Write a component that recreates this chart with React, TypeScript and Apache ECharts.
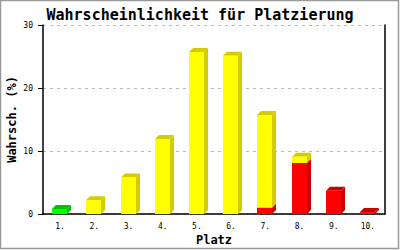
import React, { useEffect, useRef } from "react";
import * as echarts from "echarts";

const categories = ["1.", "2.", "3.", "4.", "5.", "6.", "7.", "8.", "9.", "10."];
const redValues = [0, 0, 0, 0, 0, 0, 1.0, 8.1, 3.7, 0.3];
const yellowValues = [0, 2.2, 5.8, 11.9, 25.7, 25.1, 14.7, 1.0, 0, 0];
const greenValues = [0.8, 0, 0, 0, 0, 0, 0, 0, 0, 0];
const yTicks = { min: 0, max: 30, interval: 10 };

const MONO = "'DejaVu Sans Mono', monospace";

const segColors = [
  { front: "#ff0000", side: "#cc0000" },
  { front: "#ffff00", side: "#d4cc00" },
  { front: "#00ff00", side: "#00c000" },
];

export default function App() {
  const ref = useRef<HTMLDivElement>(null);
  useEffect(() => {
    if (!ref.current) return;
    const chart = echarts.init(ref.current, null, { renderer: "svg" });
    const data = categories.map((_, i) => [i, redValues[i], yellowValues[i], greenValues[i]]);
    const W = 15;
    const D = 4;
    chart.setOption({
      animation: false,
      backgroundColor: "#ffffff",
      title: {
        text: "Wahrscheinlichkeit für Platzierung",
        left: "center",
        top: 2,
        textStyle: { fontFamily: MONO, fontSize: 15, fontWeight: "bold", color: "#000" },
      },
      grid: { left: 43, right: 15, top: 25, bottom: 36, containLabel: false, outerBoundsMode: "none" },
      xAxis: {
        type: "category",
        data: categories,
        boundaryGap: true,
        name: "Platz",
        nameLocation: "middle",
        nameGap: 20,
        nameMoveOverlap: false,
        nameTextStyle: { fontFamily: MONO, fontSize: 12, fontWeight: "bold", color: "#000" },
        axisLine: { lineStyle: { color: "#000", width: 1.5 } },
        axisTick: { show: false },
        axisLabel: { fontFamily: MONO, fontSize: 8, color: "#000", margin: 8 },
      },
      yAxis: [
        {
          type: "value",
          min: yTicks.min,
          max: yTicks.max,
          interval: yTicks.interval,
          name: "Wahrsch. (%)",
          nameLocation: "middle",
          nameGap: 25,
          nameMoveOverlap: false,
          nameTextStyle: { fontFamily: MONO, fontSize: 12, fontWeight: "bold", color: "#000" },
          axisLine: { show: true, lineStyle: { color: "#000", width: 1.5 } },
          axisTick: { show: true, length: 5, lineStyle: { color: "#000" } },
          axisLabel: { fontFamily: MONO, fontSize: 8, color: "#000", margin: 10 },
          splitLine: { show: true, lineStyle: { color: "#bbbbbb", type: [3, 4] } },
        },
        {
          type: "value",
          min: yTicks.min,
          max: yTicks.max,
          interval: yTicks.interval,
          position: "right",
          axisLine: { show: true, lineStyle: { color: "#000", width: 1.5 } },
          axisTick: { show: false },
          axisLabel: { show: false },
          splitLine: { show: false },
        },
      ],
      graphic: [
        {
          type: "rect",
          shape: { x: 0.5, y: 0.5, width: 398, height: 248 },
          style: { fill: "none", stroke: "#999999", lineWidth: 1.5 },
          silent: true,
        },
      ],
      series: [
        {
          type: "custom",
          data,
          encode: { x: 0, y: [1, 2, 3] },
          renderItem: (params: any, api: any) => {
            const idx = api.value(0);
            const children: any[] = [];
            let base = 0;
            for (let s = 0; s < 3; s++) {
              const v = api.value(s + 1);
              if (!(v > 0)) continue;
              const pb = api.coord([idx, base]);
              const pt = api.coord([idx, base + v]);
              base += v;
              const x = Math.round(pb[0] - 8);
              const yb = pb[1];
              const yt = pt[1];
              const c = segColors[s];
              children.push({
                type: "polygon",
                shape: { points: [[x + W, yt], [x + W + D, yt - D], [x + W + D, yb - D], [x + W, yb]] },
                style: { fill: c.side },
              });
              children.push({
                type: "polygon",
                shape: { points: [[x, yt], [x + D, yt - D], [x + W + D, yt - D], [x + W, yt]] },
                style: { fill: c.side },
              });
              children.push({
                type: "rect",
                shape: { x, y: yt, width: W, height: yb - yt },
                style: { fill: c.front },
              });
            }
            return { type: "group", children };
          },
          z: 3,
        },
      ],
    });
    return () => chart.dispose();
  }, []);
  return (
    <div
      ref={ref}
      style={{ position: "fixed", left: 0, top: 0, width: 400, height: 250 }}
    />
  );
}
